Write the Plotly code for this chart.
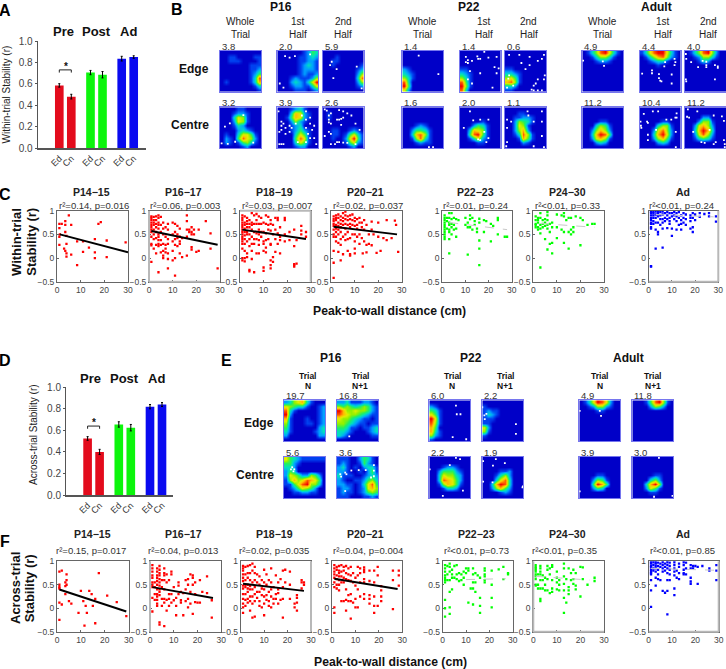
import plotly.graph_objects as go

W, H = 726, 669
FONT = "Liberation Sans"
RED, GREEN, BLUE = "#e30b1c", "#0cf50c", "#0a0af0"

# ---------- bar data ----------
bar_labels = ["Ed", "Cn", "Ed", "Cn", "Ed", "Cn"]
bar_colors = [RED, RED, GREEN, GREEN, BLUE, BLUE]
A_values = [0.585, 0.48, 0.705, 0.685, 0.835, 0.85]
A_errors = [0.016, 0.022, 0.02, 0.03, 0.022, 0.012]
D_values = [0.525, 0.40, 0.655, 0.625, 0.82, 0.84]
D_errors = [0.017, 0.024, 0.025, 0.03, 0.02, 0.018]

# ---------- rate maps (level 0-9 per coarse cell) ----------
B_P16_edge_whole = ["0000000000","0011000011","0011100001","0000000111","0000000112","0000000124","0000000138","0100000137","0000000013","0000000001"]
B_P16_edge_first = ["0000001243","0000011232","0000011221","0000012321","0000012221","0000012112","0001211125","0002321369","0001221136","0000111012"]
B_P16_edge_second = ["0000000000","0001000000","0011000000","0010000001","0000000012","0000000025","0000000038","0000000025","0000000012","0000000000"]
B_P16_centre_whole = ["0000110000","0001221000","0003651000","0002651000","0001320000","0000232100","0100366410","0210486520","0210145310","0000012000"]
B_P16_centre_first = ["0001231000","0003762100","0014762100","0002521000","0001230000","0001242100","0000364100","0000486100","0000364100","0000122000"]
B_P16_centre_second = ["0000000000","0100000000","0100000000","0000000000","0000000000","0011001210","0011014631","0010026941","0000014621","0000001200"]
B_P22_edge_whole = ["0000000000","0000000000","0000000000","0000000000","2100000000","3210000000","5310000000","8300000000","9400000000","6200000000"]
B_P22_edge_first = ["0000000000","0000000000","0000000000","0000000000","1100000000","3210000000","5310000000","8410000000","9510000000","8300000000"]
B_P22_edge_second = ["0000000000","0000000000","0000000000","0000000000","1100000000","3321000000","5641000000","7851000000","3320000000","1100000000"]
B_P22_centre_whole = ["0000000000","0000000000","0000000000","0000000000","0001210000","0024431000","0037851000","0015831000","0001211000","0000000000"]
B_P22_centre_first = ["0000000000","0000000000","0000000000","0000010000","0002431000","0037651000","0048941000","0013621000","0000110000","0000000000"]
B_P22_centre_second = ["0000000000","0001100000","0011221000","0025431000","0026510000","0025720000","0013851000","0001741000","0000210000","0000000000"]
B_Ad_edge_whole = ["0135896310","0013553100","0001221000","0000000000","0000000000","0000000000","0000000000","0000000000","0000000000","0000000000"]
B_Ad_edge_first = ["1368996310","0135785210","0012331000","0000100000","0000000000","0000000000","0000000000","0000000000","0000000000","0000000000"]
B_Ad_edge_second = ["0135895200","0012553100","0001320000","0000000000","0000000000","0000000000","0000000000","0000000000","0000000000","0000000000"]
B_Ad_centre_whole = ["0000000000","0000000000","0000000000","0000110000","0003541000","0025752000","0037984000","0026751000","0002320000","0000000000"]
B_Ad_centre_first = ["0000000000","0000000000","0000000000","0000011000","0000355100","0002685200","0003796200","0002574100","0000232000","0000000000"]
B_Ad_centre_second = ["0000000000","0000000000","0000220000","0002551000","0026752000","0037973000","0026852000","0013431000","0000000000","0000000000"]

E_P16_edge_n = ["2356731000","6543310012","8310000012","9200000012","7100010012","5100011012","4100000023","3100000123","2000000022","0000000000"]
E_P16_edge_n1 = ["2231112210","5454345421","9755655421","8765543211","6554321101","5543211011","4431101123","3321000123","3210000011","0000000000"]
E_P16_centre_n = ["6432111111","4421000000","3320000000","2430000000","2654225420","1575687640","1146895530","0124654200","0011221100","0000000000"]
E_P16_centre_n1 = ["1110024310","1210014210","2310102331","2210010241","3111001232","2100112453","2211013684","1221012675","1211012454","1110001121"]
E_P22_edge_n = ["0000000000","2100000000","4310000000","6410000000","9610000000","8510000000","7400000000","7310000000","5210000000","1000000000"]
E_P22_edge_n1 = ["0000000000","1000000000","1211000000","1321000000","1110000000","1100000000","6200000000","5100000000","1000000000","0000000000"]
E_P22_centre_n = ["0000000000","0000000000","0001221000","0024442100","0036553200","0038764200","0015764100","0001332000","0000000000","0000000000"]
E_P22_centre_n1 = ["0000000000","0000000000","0000000000","0000112000","0001352000","0003683000","0037983000","0025742000","0000121000","0000000000"]
E_Ad_edge_n = ["0136986200","0012552100","0000110000","0000000000","0000000000","0000000000","0000000000","0000000000","0000000000","0000000000"]
E_Ad_edge_n1 = ["0001489510","0000254200","0000000000","0000000000","0000000000","0000000000","0000000000","0000000000","0000000000","0000000000"]
E_Ad_centre_n = ["0000000000","0000000000","0000000000","0000000000","0000110000","0002541000","0004974000","0002430000","0000000000","0000000000"]
E_Ad_centre_n1 = ["0000000000","0000000000","0000000000","0000000000","0000011000","0000352000","0003795000","0002641000","0000110000","0000000000"]

# ---------- empty (unvisited) bins per map ----------
H_P16_ef = [(1.9,1.3),(3,1.7),(4.3,1.3),(8,0.9),(0.6,8),(1.5,9)]
H_P16_es = [(2.2,2.7),(1.8,3.5),(2.6,6.7),(3.4,4.5),(8.3,3.9),(9.5,9.2)]
H_P16_cw = [(1.2,4.7),(2.4,3.9),(.4,8.8),(1.9,8.9),(3.7,8.4),(5.7,1.9),(8.1,8.6)]
H_P16_cf = [(0.3,1),(1,3.5),(1,4.5),(1,5.5),(1.5,4),(2,5),(0.5,6),(2,6.5),(3,6),(3.5,5),(6,2),(7,3),(8,2.5),(8,4),(7,5),(8.5,5.5),(9,4.5),(7.5,6.5),(8,7.5),(7,8.5),(9,7.5),(0.5,9),(1,9),(1.5,9),(5,8.5),(9.5,9),(3,4.5),(4.5,4),(7,1)]
H_P16_cs = [(0.5,0.5),(1,0.8),(2,1.5),(1.5,2),(1.5,3),(1.5,3.7),(2,4),(3.5,3),(4,3),(4.5,2.8),(5,2.5),(5,1),(6,1.5),(7,2),(8,4),(0.5,7),(1.5,6),(2,6.5),(2,9),(3,9),(3.5,8.5),(4,8.5),(5,8.6),(6,8.7),(8,9),(9,5.5),(4,0.7),(4.5,4.3)]
H_P22_ew = [(4,1.2),(8.8,5.7)]
H_P22_ef = [(1.5,2.8),(2,2.3),(2,3),(3,2.5),(4.3,1.4),(4.5,2),(5,2),(7,1.7),(9,1.5),(8.5,4),(9.5,4.3),(9,5.5),(5,5.5),(2.5,5),(2,7),(3,8),(8,9),(1.5,1.5),(6,0.3)]
H_P22_es = [(3.5,1),(6,1.5),(9.5,1),(8,2.5),(6,3.5),(5,4.5),(8,7),(7.5,8),(7,8.5),(6.5,9.5),(7,9.7),(8,9.7),(9,9.7),(9.5,7),(9.7,6),(1,6),(0.8,6.8),(2,8.5),(0.5,9),(9,2),(4,3),(1,1)]
H_P22_cw = [(6.5,9.7),(7.5,9.7)]
H_P22_cf = [(2.5,1),(1,5),(3.3,3.2),(5,3),(6,6),(7,7.5),(6.5,8.5),(5,8),(7,3),(4.5,7.8)]
H_P22_cs = [(0.5,3),(5.5,1),(9,1),(5.7,2),(0.5,5),(7,3.5),(9,3.5),(9,7),(0.5,8.5),(0.3,9.5),(7,9.5),(9.5,9.7),(1.5,3.5)]
H_Ad_ew = [(0.2,2.4),(5,2.6),(5.3,3.7)]
H_Ad_ef = [(8.5,2),(8.7,2.8),(8.5,3.5),(6,3.8),(6.2,2.8),(0.6,5.6),(3,4.8),(3,5.5),(4.7,5.7),(4.7,6.7),(5,7.3),(7.8,5.8),(7.8,8),(5.3,7.5)]
H_Ad_es = [(0.2,0.8),(0.3,2),(1.5,2.8),(3.2,4),(4.3,2.5),(5.2,2.7),(5.2,3.5),(5.2,4),(7.3,3.5),(8,3.8),(7.3,7),(0.2,7),(0.3,7.5),(8,4.2)]
H_Ad_cf = [(1,1.6),(3.2,1),(4.5,1),(1.8,3.5),(2,3.8),(0.2,3.5),(0.3,4.5),(0.4,5),(9,1.5),(8.7,2.5),(9,2.5),(6.5,3),(7.7,3),(2,6.7),(8.8,6),(2,8),(8.8,9.7),(4,5.5)]
H_Ad_cs = [(0.7,0.5),(3,1),(0.5,2.3),(1,2.5),(7,2),(9,2.2),(9.5,3.3),(6,5.5),(2,6),(4,8.5),(4.8,8.7),(7.5,8.5),(7,9),(9.5,8),(9.7,9),(9.7,9.7)]
HE_P16_en1 = [(3,8.8)]
HE_P16_cn = [(2,2.5),(2.5,3),(2.3,3.5),(1.7,3)]
HE_P16_cn1 = [(0.8,4.2),(1,4.8),(2,3.8),(2.3,4.2),(3.5,3.3),(5.3,3.2),(7,3.2),(9,2),(9,3.3),(9,4.7),(8.3,5),(2,8.3)]
HE_P22_en = [(6.5,1.3),(6.7,3.4),(7.6,3.4),(5.7,9),(9,9.5)]
HE_P22_en1 = [(0,1.7),(1,3.3),(0.5,3.7),(0.6,4.6),(8.2,5.8),(8.2,8.2)]
HE_P22_cn = [(6.5,0.2),(7.5,0.5),(0.1,3),(5,2),(8.2,8.2),(3.3,9.5)]
HE_P22_cn1 = [(0.2,1),(3.3,0.5),(2.6,2.1),(5.5,1.5),(0.2,6),(9.9,7.2),(9.8,7.4),(2.5,6.2)]
HE_Ad_en = [(0.1,2.6),(5,2.6),(5.3,3.8)]
HE_Ad_cn = [(0.1,8.4)]
HE_Ad_cn1 = [(6.5,0.2),(9.8,9.5),(5.3,9.7)]

# ---------- scatter panels: x columns and the y values in each column ----------
C1_x = [1,1.2,2,3,3.5,4,5,6,8.5,11,13.5,16,17.5,18.5,21,29]
C1_y = [[.72,.63,.45,.28],[.5],[.72],[.2],[.78,.7,.55,.15],[.47,.3,.1,.03],[.9],[.7,.07],[.35,-.15],[.35,.13],[.22],[.4,.12,0],[.72],[.76],[.37,.02],[.33]]
C2_x = [1,2,3,4,5,6,7,8,10,11,12,13,14,16,17,18,19,20,21,24,26,29]
C2_y = [[.88,.85,.8,.75,.7,.65,.6,.55,.45,.3,.27,-.08],[.87,.8,.75,.7,.6,.5,.4,.2],[.88,.8,.72,.65,.55,.42,.28,.1],[.9,.85,.75,.7,.62,.5,.45,.38,.3,.25,-.3],[.87,.7,.55,.38,.28,.12],[.75,.62,.5,.3,.15,.05,0],[.65,.45,.28,.2,.12],[.72,.6,.4,.3,.1,-.02,-.22],[.75,.5,.35,.15,-.05],[.72,.55,.4,.28,0,-.37],[.68,.5,.42,.25],[.62,.45,.35,.3,.1],[.42,.02],[.9,.78,.6,.45,.05],[.6,.55],[.65,.55,.5,.23,.18],[.6,.5],[.13],[.6,.15],[.78],[.52,.2],[-.22]]
C3_x = [1,2,3,4,5,6,7,8,9,10,11,12,13,14,15,16,17,19,21,23,24,26,28]
C3_y = [[.9,.85,.8,.75,.7,.65,.6,.55,.5,.45,.4,.35,.3,.2,0,-.05],[.88,.75,.7,.62,.55,.48,.4,.3,.15,0,-.07],[.85,.78,.72,.65,.55,.5,.35,.1,.02],[.8,.72,.65,.5,.4,.25,-.25,-.28],[.95,.75,.7,.6,.45,.3,.15,-.02],[.9,.72,.55,.4,.3,-.3],[.93,.8,.72,.52,.4,.1],[.88,.72,.6,.5,.38,.28,.1],[.85,.72,.55,.45],[.75,.55,.35,.3,.15,-.2,-.27],[.9,.72,.52,.38,.22,.12],[.87,.7,.6,.4],[.8,.72,.58,.3,.28,-.05,-.15,-.22],[.7,.5,.02,-.08],[.85,.6,.4,.13],[.85,.8,.52,.3],[.65,.45,.38,.1],[.85,.8,.5,.35],[.55,.38],[.6,.25,-.13,-.15,-.18],[.38,-.12],[.68,.58,.5],[.55,.45]]
C4_x = [1,2,3,4,5,6,7,8,9,10,11,12,13,13.4,14,15,16,17.2,18,19.3,20,21,22.2,23.6,25.7,27.1,27.6,28.5]
C4_y = [[.88,.82,.78,.72,.68,.6,.5,.45,.15,-.1,-.42],[.9,.85,.8,.7,.62,.55,.45,.35],[.92,.85,.75,.68,.6,.5,.32,.13],[.88,.8,.72,.65,.55,.4,.28,-.05],[.95,.85,.78,.7,.45,.08],[.98,.9,.82,.72,.62,.5,.38],[.88,.8,.7,.55,.4,.15],[.9,.82,.72,.65,.42,.08,.05],[.92,.8,.7,.5],[.85,.78,.68,.5,.35,.2,.1],[.82,.7,.62,.45],[.85,.75,.5,.3],[.75,.65,.42],[-.18,.1],[.8,.6,.35],[.7,.28,.12],[.5,.3],[.77,.6,.27],[.5],[.11],[.75,.45],[.15],[.42],[.8,.38],[.42],[.79],[.7],[.13]]
C5_x = [1,2,3,4,5,6,7,10,11,12,13,14,15,16,18,19,21,22,24,27,28]
C5_y = [[.9,.85,.8,.75,.7,.65,.6,.55,.5,.45,.4],[.85,.78,.62],[.95,.85,.75,.7,.6,.55,.4,.1],[.95,.82,.72,.65,.5],[.85,.7,.6],[.82,.62,.45],[.8],[.85,.7],[.75,.65,.07],[.9,.82,.65],[.85,.6],[.78,.7],[.62,.55],[.83,.75,.37,.2,-.15],[.8,.55],[.78],[.72,.35],[.68],[.85,.8,.5],[.45],[.45]]
C6_x = [1,2,3,4,5,6,7,8,10,12,13,14,15,16,17,18,20,21,23,25,26]
C6_y = [[.88,.8,.72,.7,.65],[.85,.8,.75,.65,.6],[.95,.85,.7,.62,.52,-.2],[.8,.72,.65],[.82,.75,.68,.4],[.97,.9,.8,.7,.62,.18],[.72,.55,.3],[.75,.65,.32,.1],[.92,.65,.42],[.9,.6],[.95,.88,.55,.32],[.8],[.85,.55,.2],[.85,.6,.5],[.55,.65],[.88],[.85,.27],[.8],[.7],[.72],[.72]]
C7_x = [1,2,3,4,5,6,7,8,9,10,11,12,13,14,15,16,18,19,20,22,24,26,29]
C7_y = [[.98,.95,.9,.85,.8,.75,.72,.65,.62,-.17,-.18],[.98,.95,.9,.85,.78,.72],[.98,.92,.85,.75,.6,.2],[.97,.93,.88,.75,.55,.5],[.97,.9,.82,.7],[.98,.92,.82,.75,.62,.22],[.95,.85,.78],[.97,.9,.82,.63],[.95,.85,.78,.72],[.95,.88,.62,.47],[.97,.9,.82],[.95,.88,.78,.6],[.97,.85,.7],[.9,.8,.72,.6],[.95,.85,.75],[.92,.82,.7],[.9,.85,.78,.62],[.95,.85,.65,.55],[.92,.8],[.95,.87],[.93],[.95,.88],[.88,.77]]

F1_x = [1,2,3.5,4,5,6,9,10,11,11.5,12,12.5,13.5,14.5,15,16,17.5,21,25,29]
F1_y = [[.78,.5,.45,.42,.12,-.25],[.8,.08],[.55,.47,.3],[.72,.6,.5],[.15],[.1],[-.1],[.37],[.15],[-.37],[.05],[-.1],[.37],[.3],[.05],[.2,-.32],[.75],[.27],[.13],[-.17]]
F2_x = [1,2,3,4,5,6,7,8,9,10,11,12,13,14,15,16,17,18,19,20,21,22,24,26]
F2_y = [[.92,.85,.78,.7,.65,.55,.5,.45,.22,-.07],[.55,.45,.3,.18],[.85,.78,.7,.65,.58,.5,.4,.3,.25,.18,.1,.05],[.9,.82,.75,.7,.62,.55,.48,.4,.35,.28,-.3,-.35],[.6,.45,.2,.05],[.85,.75,.7,.6,.4,.2,.12,-.38],[.72,.55,.18,-.05],[.6,.3,.2,.05],[.78,.72,.3,.12],[.45,.17],[.22,.05,-.15],[.55,.48,.3],[.35,.17,.12],[.32,-.15],[.6,.4,.15],[.62,.5,.2,.02],[.72,.35,.1],[.7,.65,.5,-.12],[.55,.3,.13],[.12],[.6,.12],[.35],[.68,.32],[.17,-.2]]
F3_x = [1,2,3,4,5,6,7,8,9,10,11,12,13,14,15,16,17,18,19,21,23,24,26,27]
F3_y = [[.9,.85,.8,.72,.65,.58,.48,.42,.3,.2,.1,.02,-.1],[.88,.72,.6,.5,.45,.3,.18,.05],[.9,.75,.65,.5,.42,.35,.2,.12],[.92,.75,.6,.47,.4,.25,.15,-.05],[.95,.8,.55,.4,.25,.1,-.2],[.88,.75,.6,.45,.3,.15,-.18],[.72,.55,.35,.22],[.68,.5,.35,.15,.05],[.6,.42,.28,.02],[.82,.55,.4,.25,.1,-.15],[.72,.5,.28,.18],[.6,.35,.15,.05],[.85,.55,.4,.25,.02],[.45,.2,.1],[.7,.3,.2],[.55,.4,.32,.1],[.62,.18],[.8,.45,.2,-.2],[.82,.55],[.78,.5,.2],[.1,.02],[.28,.22,.12,-.05],[.6,.55,.42],[.5,.55]]
F4_x = [1,2,3,4,5,6,7,8,9,10,11,12,13.7,16,18,19.5,21,26,28.5]
F4_y = [[.92,.85,.78,.72,.65,.55,.45,.02,-.1],[.88,.82,.7,.62,.5,.42],[.9,.8,.75,.68,.6,.5,.38],[.92,.78,.68,.55,.15],[.88,.8,.65,.55,.15],[.9,.75,.62,.4,.18,-.05],[.85,.72,.6,.28,.15],[.88,.7,.58,.3,.15,-.22],[.75,.55,.12],[.65,.48,.2,.02],[.88,.7,.4,.02],[.85,.75,.55,.25],[.87,.82,.77,.62,.55,.3,.2],[.8,.58,.28,.2,.1],[.8,.55,.25,.05,-.1],[.88,.7,.05],[.47,.38,.25,.15],[.8,.6,-.02],[.8,.7,.48]]
F5_x = [1,2,3,4,5,6,7,8,9,10,11,12,13,14,15,16,18,21,24,26,28]
F5_y = [[.92,.85,.78,.7,.65,.6,.55,.18,0,-.18],[.9,.72,.6],[.95,.88,.78,.6,.35,.02,-.12],[.82,.72,.65,.4],[.9,.65],[.92,.72,.62],[.75,.58],[.72,.6],[.78,.65,.5],[.75,.85],[.85,.8,.12],[.42],[.85,.72,.55,.42,.08],[.75,.55,.35],[.7],[.65,.22,.05,-.1],[.85,.8,.72,.68,.6,.55],[.8,.5,.22,.02],[.83],[.88,.62],[.72,.75]]
F6_x = [1,2,3,4,5,6,7,8,10,11,13,14,15,16,17,18,20,21,23,26]
F6_y = [[.92,.88,.85,.82,.78,.72,.68,.62,.5,.48],[.72,.5,.42],[.9,.85,.78,.72,.6,.42,.2,.15],[.7,.6,.42],[.65,.5,.38],[.9,.82,.62,.38],[.85,.72,.32],[.92,.88,.6,.42,.35],[.78,.65,.55,.4],[.6,.5,.38],[.95,.85,.68,.52,.38,.22,-.1],[.12,.62],[.85,.45,.38,.3],[.75,.6],[.82,.62,.52],[.75,.48,.4],[.88,.25],[.87,.62],[.5],[.65,.58]]
F7_x = [1,2,3,4,5,6,7,8,9,11,12,13,15,16,18,19,20,21,23,26,29]
F7_y = [[.98,.95,.9,.87,.82,.78,.75,.72,.6,.38,.03],[.98,.92,.85,.8],[.98,.95,.9,.85,.78,.65,.48],[.97,.9,.82,.72,.62],[.95,.88,.6],[.98,.92,.85,.78,.37],[.95,.88,.8,.33],[.98,.92,.85,.75,.6,.37,-.13],[.97,.9,.82,.72,.6],[.98,.92,.85,.78,.7,.42,.28],[.8,.65],[.95,.88,.75,.62],[.98,.92,.82,.75,.72],[.97,.85,.72],[.92,.85,.65,.52,.57],[.9,.85],[.9],[.88,.52],[.9],[.85,.8],[.92,.8,.6]]

# regression lines (x pair, y pair)
C_fit_x = [[1.2,30],[1,29],[1,28],[1,28],[3,28],[3,26],[3,28]]
C_fit_y = [[.5,.12],[.57,.28],[.6,.4],[.66,.5],[.75,.6],[.73,.65],[.92,.87]]
F_fit_x = [[1,29],[1,26.5],[1,27],[1,28],[10,27],[1,24],[1,28]]
F_fit_y = [[.4,-.07],[.45,.22],[.52,.37],[.63,.41],[.61,.63],[.68,.6],[.85,.81]]

scatter_titles = ["P14−15","P16−17","P18−19","P20−21","P22−23","P24−30","Ad"]
C_stats = ["r²=0.14, p=0.016","r²=0.06, p=0.003","r²=0.03, p=0.007","r²=0.02, p=0.037","r²=0.01, p=0.24","r²<0.01, p=0.33","r²<0.01, p=0.24"]
F_stats = ["r²=0.15, p=0.017","r²=0.04, p=0.013","r²=0.02, p=0.035","r²=0.04, p=0.004","r²<0.01, p=0.73","r²<0.01, p=0.35","r²<0.01, p=0.85"]
scatter_colors = ["#ff0000"]*4 + ["#00ff00"]*2 + ["#0000ff"]
fit_colors = ["#000000"]*4 + ["#c8c8c8"]*3
fit_widths = [2,2,2,2,1,1,1]
fit_dash = ["solid"]*4 + ["dash"]*3
scatter_x_ticks = [0,10,20,30]
scatter_y_ticks = [-0.5,0,0.5,1]
scatter_y_text = ["−0.5","0","0.5","1"]

# sides of each scatter frame drawn in a heavier light grey in the source
C_grey_sides = ["", "lb", "tr", "", "", "", "rb"]
F_grey_sides = ["", "l", "r", "", "", "lb", "rb"]

JET = [[0,'#0000c8'],[.11,'#0040f0'],[.22,'#00a0ff'],[.33,'#00e0c0'],[.44,'#20f060'],[.55,'#90f000'],
       [.66,'#e0f000'],[.77,'#ffc000'],[.88,'#ff6000'],[1,'#f00000']]

fig = go.Figure()
layout = {}
annots = []
shapes = []
axis_n = [0]

def text(x, y, s, size, bold=False, anchor="center", color="#111111", angle=0):
    if bold:
        s = "<b>%s</b>" % s
    annots.append(dict(xref="paper", yref="paper", x=x/W, y=1-y/H, text=s, showarrow=False,
                       xanchor=anchor, yanchor="middle", textangle=angle,
                       font=dict(family=FONT, size=size, color=color), align="center"))

def new_axes(x0, x1, y0, y1, xopts, yopts):
    axis_n[0] += 1
    n = axis_n[0]
    sx = "" if n == 1 else str(n)
    layout["xaxis"+sx] = dict(domain=[x0/W, min(1, x1/W)], anchor="y"+sx, automargin=False, **xopts)
    layout["yaxis"+sx] = dict(domain=[1-y1/H, 1-y0/H], anchor="x"+sx, automargin=False, **yopts)
    return "x"+sx, "y"+sx

def bar_panel(x0, x1, y0, y1, values, errors, title, title_x, bx, by):
    unit = 12.0
    first = x0 + 21.6
    pos = [1, 2, 3.6, 4.6, 6.2, 7.2]
    xa, ya = new_axes(x0, x1, y0, y1,
        dict(range=[1-(first-x0)/unit, 1+(x1-first)/unit], tickvals=pos, ticktext=bar_labels, tickangle=-45,
             tickfont=dict(family=FONT, size=9, color="#333"), showgrid=False, zeroline=False,
             showline=True, linecolor="#555", linewidth=1.5, ticks="", ticklen=0),
        dict(range=[0, 1], tickvals=[0,.2,.4,.6,.8,1], ticktext=["0.0","0.2","0.4","0.6","0.8","1.0"],
             tickfont=dict(family=FONT, size=10, color="#444"), showgrid=False, zeroline=False,
             showline=True, linecolor="#555", linewidth=1, ticks="outside", ticklen=2, tickcolor="#555"))
    fig.add_trace(go.Bar(x=pos, y=values, width=0.72, marker=dict(color=bar_colors, line=dict(width=0)),
                         error_y=dict(type="data", array=errors, color="#000", thickness=1, width=1),
                         xaxis=xa, yaxis=ya, showlegend=False))
    for xp, s in zip(title_x, title):
        text(xp, y0-9, s, 13, True)
    shapes.append(dict(type="path", xref=xa, yref=ya, path="M 1 %g L 1 %g L 2 %g L 2 %g" % (by-.025, by, by, by-.025),
                       line=dict(color="#222", width=1)))
    text(bx, y0+(1-by)*(y1-y0)-3.5, "*", 10, True)

def rate_map(x0, y0, peak, rows, holes=()):
    x1, y1 = x0+41, y0+41
    opts = dict(showgrid=False, zeroline=False, showticklabels=False, ticks="", showline=True, mirror=True,
                linecolor="#7676ee", linewidth=1)
    xa, ya = new_axes(x0, x1, y0, y1, dict(range=[0,10], **opts), dict(range=[10,0], **opts))
    z = [[int(c) for c in r] for r in rows]
    fig.add_trace(go.Heatmap(z=z, x=[i+.5 for i in range(10)], y=[i+.5 for i in range(10)], colorscale=JET,
                             zmin=0, zmax=9, zsmooth="best", showscale=False, xaxis=xa, yaxis=ya, hoverinfo="skip"))
    if holes:
        fig.add_trace(go.Scatter(x=[p[0] for p in holes], y=[p[1] for p in holes], mode="markers",
                                 marker=dict(symbol="square", size=1.8, color="white", line=dict(width=0)),
                                 xaxis=xa, yaxis=ya, showlegend=False, hoverinfo="skip"))
    text(x0, y0-4.7, peak, 9.5, anchor="left", color="#333")

def scatter_panel(x0, x1, y0, y1, xs, ys, color, fx, fy, fc, fw, fd, grey=""):
    ax = dict(showgrid=False, zeroline=False, showline=True, mirror=True, linecolor="#666", linewidth=1,
              ticks="inside", ticklen=1.5, tickcolor="#666", tickfont=dict(family=FONT, size=8.5, color="#444"))
    xa, ya = new_axes(x0, x1, y0, y1, dict(range=[0,30], tickvals=scatter_x_ticks, **ax),
                      dict(range=[-.5,1], tickvals=scatter_y_ticks, ticktext=scatter_y_text, **ax))
    px = [x for x, col in zip(xs, ys) for _ in col]
    py = [y for col in ys for y in col]
    fig.add_trace(go.Scatter(x=px, y=py, mode="markers", marker=dict(symbol="square", size=2.3, color=color, line=dict(width=0)),
                             xaxis=xa, yaxis=ya, showlegend=False))
    fig.add_trace(go.Scatter(x=fx, y=fy, mode="lines", line=dict(color=fc, width=fw, dash=fd),
                             xaxis=xa, yaxis=ya, showlegend=False))
    ends = {"l": (x0, y0, x0, y1), "r": (x1, y0, x1, y1), "t": (x0, y0, x1, y0), "b": (x0, y1, x1, y1)}
    for side in grey:
        a, b, c, d = ends[side]
        shapes.append(dict(type="line", xref="paper", yref="paper", x0=a/W, y0=1-b/H, x1=c/W, y1=1-d/H,
                           line=dict(color="#b8b8b8", width=2)))

# panel letters
for s, x, y in [("A",5,10),("B",177,9),("C",5,195),("D",5,360),("E",226,360),("F",5,541)]:
    text(x, y, s, 16, True, color="#000")

# bars
bar_panel(37.7, 146, 41, 148, A_values, A_errors, ["Pre","Post","Ad"], [63,97,128], 65.5, 0.73)
bar_panel(66, 173.3, 387.3, 495, D_values, D_errors, ["Pre","Post","Ad"], [91,124,156], 93.5, 0.64)
text(5.5, 95, "Within-trial Stability (r)", 10, angle=-90, color="#222")
text(33, 435, "Across-trial Stability (r)", 10, angle=-90, color="#222")

# panel B
B_col = [220,277.3,322.7,402.3,459.7,505,582.3,639.7,685]
B_row = [50.7,107.3]
B_peaks = [["3.8","2.0","5.9","1.4","1.4","0.6","4.9","4.4","4.0"],["3.2","3.9","2.6","1.6","2.0","1.1","11.2","10.4","11.2"]]
B_grids = [[B_P16_edge_whole,B_P16_edge_first,B_P16_edge_second,B_P22_edge_whole,B_P22_edge_first,B_P22_edge_second,B_Ad_edge_whole,B_Ad_edge_first,B_Ad_edge_second],
           [B_P16_centre_whole,B_P16_centre_first,B_P16_centre_second,B_P22_centre_whole,B_P22_centre_first,B_P22_centre_second,B_Ad_centre_whole,B_Ad_centre_first,B_Ad_centre_second]]
B_holes = [[(),H_P16_ef,H_P16_es,H_P22_ew,H_P22_ef,H_P22_es,H_Ad_ew,H_Ad_ef,H_Ad_es],
           [H_P16_cw,H_P16_cf,H_P16_cs,H_P22_cw,H_P22_cf,H_P22_cs,(),H_Ad_cf,H_Ad_cs]]
for r in range(2):
    for c in range(9):
        rate_map(B_col[c], B_row[r], B_peaks[r][c], B_grids[r][c], B_holes[r][c])
for x, s, s2 in zip([240,298,343,423,484,528.7,602.7,663.3,708.3],
                    ["Whole","1st","2nd"]*3, ["Trial","Half","Half"]*3):
    text(x, 22, s, 10, color="#222")
    text(x, 35, s2, 10, color="#222")
for x, s in [(281,"P16"),(469,"P22"),(656.7,"Adult")]:
    text(x, 7, s, 12, True)
text(211, 69, "Edge", 12, True, anchor="right")
text(211, 125, "Centre", 12, True, anchor="right")

# panel E
E_col = [284,337,429.3,482.3,579.3,632.3]
E_row = [400.3,457]
E_peaks = [["19.7","16.8","6.0","2.2","4.9","11.8"],["5.6","3.6","2.2","1.9","3.9","3.0"]]
E_grids = [[E_P16_edge_n,E_P16_edge_n1,E_P22_edge_n,E_P22_edge_n1,E_Ad_edge_n,E_Ad_edge_n1],
           [E_P16_centre_n,E_P16_centre_n1,E_P22_centre_n,E_P22_centre_n1,E_Ad_centre_n,E_Ad_centre_n1]]
E_holes = [[(),HE_P16_en1,HE_P22_en,HE_P22_en1,HE_Ad_en,()],
           [HE_P16_cn,HE_P16_cn1,HE_P22_cn,HE_P22_cn1,HE_Ad_cn,HE_Ad_cn1]]
for r in range(2):
    for c in range(6):
        rate_map(E_col[c], E_row[r], E_peaks[r][c], E_grids[r][c], E_holes[r][c])
for x, s in zip([307.7,360.3,452,505,599.7,652.7], ["N","N+1"]*3):
    text(x, 376, "Trial", 8.5, True)
    text(x, 386, s, 8.5, True)
for x, s in [(331.3,"P16"),(471,"P22"),(628,"Adult")]:
    text(x, 358, s, 12, True)
text(275.7, 423, "Edge", 12, True, anchor="right")
text(275.7, 474.7, "Centre", 12, True, anchor="right")

# panel C
C_left = [57,149,240,331.3,442.3,533.3,648.7]
C_right = [128,220,310.7,401.7,511.7,604,718.3]
C_xs = [C1_x,C2_x,C3_x,C4_x,C5_x,C6_x,C7_x]
C_ys = [C1_y,C2_y,C3_y,C4_y,C5_y,C6_y,C7_y]
C_title_x = [91.7,183,274,365,475.7,567,682.7]
C_stat_x = [94,185,276.7,368,475.7,567,681.7]
for i in range(7):
    scatter_panel(C_left[i], C_right[i], 210.7, 281.7, C_xs[i], C_ys[i], scatter_colors[i],
                  C_fit_x[i], C_fit_y[i], fit_colors[i], fit_widths[i], fit_dash[i], C_grey_sides[i])
    text(C_title_x[i], 192, scatter_titles[i], 10.5, True, color="#222")
    text(C_stat_x[i], 205.7, C_stats[i], 9.5, color="#333")
text(16, 242, "Within-trial", 13, True, angle=-90)
text(30.7, 242, "Stability (r)", 13, True, angle=-90)
text(389.5, 310.7, "Peak-to-wall distance (cm)", 12.2, True)

# panel F
F_left = [57,150,240.7,332,442.7,533.3,648.7]
F_right = [128.7,221.3,311,402.3,512.7,604,718.7]
F_xs = [F1_x,F2_x,F3_x,F4_x,F5_x,F6_x,F7_x]
F_ys = [F1_y,F2_y,F3_y,F4_y,F5_y,F6_y,F7_y]
F_title_x = [92,183,274.7,365,476.3,567.3,683]
F_stat_x = [91.3,182.7,274,368,476.7,564.7,682.7]
for i in range(7):
    scatter_panel(F_left[i], F_right[i], 561.3, 631.7, F_xs[i], F_ys[i], scatter_colors[i],
                  F_fit_x[i], F_fit_y[i], fit_colors[i], fit_widths[i], fit_dash[i], F_grey_sides[i])
    text(F_title_x[i], 534, scatter_titles[i], 10.5, True, color="#222")
    text(F_stat_x[i], 550, F_stats[i], 9.5, color="#333")
text(15, 588, "Across-trial", 13, True, angle=-90)
text(29.3, 588, "Stability (r)", 13, True, angle=-90)
text(390.5, 662, "Peak-to-wall distance (cm)", 12.2, True)

fig.update_layout(template="none", width=W, height=H, margin=dict(l=0, r=0, t=0, b=0, pad=0), paper_bgcolor="white", plot_bgcolor="white",
                  showlegend=False, annotations=annots, shapes=shapes, font=dict(family=FONT), **layout)
fig.write_html("out.html", config=dict(displayModeBar=False),
               post_script="document.body.style.margin='0';document.body.style.overflow='hidden';")
